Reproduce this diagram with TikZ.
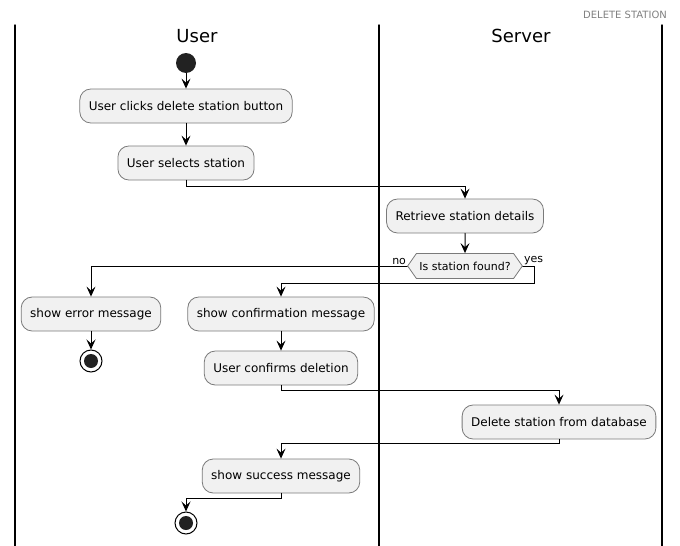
\documentclass[tikz,border=0pt]{standalone}
\usepackage{fontspec}
\setmainfont{DejaVu Sans}
\usetikzlibrary{arrows.meta,shapes.symbols}
\definecolor{actfill}{HTML}{F1F1F1}
\definecolor{actline}{HTML}{7A7A7A}
\definecolor{dotfill}{HTML}{222222}
\begin{document}
\begin{tikzpicture}[x=1pt,y=-1pt,line cap=round,
	act/.style={draw=actline,fill=actfill,line width=0.8pt,rounded corners=11pt,
		minimum height=34pt,inner xsep=9pt,font=\fontsize{12}{14}\selectfont},
	flow/.style={-{Stealth[length=10pt,width=9pt,inset=4pt]},line width=1pt},
	lane/.style={line width=1.5pt},
	lanetitle/.style={font=\fontsize{18}{21}\selectfont},
	branch/.style={font=\fontsize{11}{13}\selectfont,inner sep=1pt}]
	\useasboundingbox (0,0) rectangle (680,546);
	% lanes
	\draw[lane] (15,25) -- (15,546);
	\draw[lane] (379,25) -- (379,546);
	\draw[lane] (662,25) -- (662,546);
	\node[font=\fontsize{10}{12}\selectfont,text=black!50] (title) at (625,15) {DELETE STATION};
	\node[lanetitle] (user) at (197,36) {User};
	\node[lanetitle] (server) at (521,36) {Server};
	% activities
	\node[circle,fill=dotfill,minimum size=20pt,inner sep=0pt] (start) at (186,63) {};
	\node[act] (click) at (186,106) {User clicks delete station button};
	\node[act] (select) at (186,163) {User selects station};
	\node[act] (retrieve) at (465,216) {Retrieve station details};
	\node[signal,signal to=east and west,signal pointer angle=110,draw=actline,fill=actfill,
		line width=0.8pt,minimum height=25pt,inner xsep=3pt,font=\fontsize{11}{13}\selectfont]
		(found) at (465,266) {Is station found?};
	\node[act] (error) at (91,314) {show error message};
	\node[act] (confirm) at (281,314) {show confirmation message};
	\node[act] (confirms) at (281,368) {User confirms deletion};
	\node[act] (delete) at (559,422) {Delete station from database};
	\node[act] (success) at (281,476) {show success message};
	\node[circle,draw,line width=1pt,fill=white,minimum size=22pt,inner sep=0pt,
		path picture={\fill[dotfill] (path picture bounding box.center) circle (7pt);}] (stopno) at (91,361) {};
	\node[circle,draw,line width=1pt,fill=white,minimum size=22pt,inner sep=0pt,
		path picture={\fill[dotfill] (path picture bounding box.center) circle (7pt);}] (stop) at (186,523) {};
	\node[branch,anchor=south east] (no) at (found.west) {no};
	\node[branch,anchor=south west] (yes) at (found.east) {yes};
	% flows
	\draw[flow] (start) -- (click);
	\draw[flow] (click) -- (select);
	\draw[flow] (select.south) -- ++(0,6) -| (retrieve.north);
	\draw[flow] (retrieve) -- (found);
	\draw[flow] (found.west) -| (error.north);
	\draw[flow] (error) -- (stopno);
	\draw[flow] (found.east) -- ++(12,0) -- ++(0,17) -| (confirm.north);
	\draw[flow] (confirm) -- (confirms);
	\draw[flow] (confirms.south) -- ++(0,5) -| (delete.north);
	\draw[flow] (delete.south) -- ++(0,4) -| (success.north);
	\draw[flow] (success.south) -- ++(0,5) -| (stop.north);
\end{tikzpicture}
\end{document}
